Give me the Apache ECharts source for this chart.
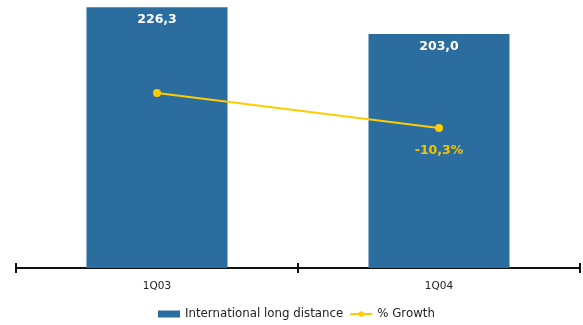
<!DOCTYPE html>
<html><head><meta charset="utf-8">
<script src="https://cdn.jsdelivr.net/npm/echarts@6/dist/echarts.min.js"></script>
<style>html,body{margin:0;padding:0;background:#fff}#c{width:583px;height:325px}</style>
</head><body><div id="c"></div>
<script>
const categories = ['1Q03', '1Q04'];
const intlLongDistance = [226.3, 203.0];
const growth = [0, -10.3];
const growthLabels = ['', '-10,3%'];

const chart = echarts.init(document.getElementById('c'));
const fmt = v => v.toFixed(1).replace('.', ',');
chart.setOption({
  animation: false,
  textStyle: { fontFamily: 'DejaVu Sans' },
  grid: { left: 16, right: 3, top: 3, bottom: 57 },
  legend: {
    bottom: 0, left: 153, itemGap: 6,
    itemWidth: 22, itemHeight: 7,
    textStyle: { fontSize: 11.8, color: '#222', fontFamily: 'DejaVu Sans' },
    data: [
      { name: 'International long distance', icon: 'rect' },
      { name: '% Growth' }
    ]
  },
  xAxis: [
    {
      type: 'category', data: categories, position: 'bottom',
      axisLine: { onZero: false, lineStyle: { color: '#111', width: 2 } },
      axisTick: { show: true, length: 5, lineStyle: { color: '#111', width: 2 } },
      axisLabel: { color: '#222', fontSize: 10.5, margin: 13 }
    },
    {
      type: 'category', data: categories, position: 'bottom',
      axisLine: { show: false, onZero: false },
      axisTick: { show: true, inside: true, length: 5, lineStyle: { color: '#111', width: 2 } },
      axisLabel: { show: false }
    }
  ],
  yAxis: [
    { type: 'value', min: 0, max: 230, show: false },
    { type: 'value', min: -51.5, max: 26.5, show: false }
  ],
  series: [
    {
      name: 'International long distance', type: 'bar', data: intlLongDistance,
      barWidth: '50%', itemStyle: { color: '#2C6DA0' },
      label: { show: true, position: 'insideTop', distance: 6, color: '#fff',
        fontWeight: 'bold', fontSize: 12.5, formatter: p => fmt(p.value) }
    },
    {
      name: '% Growth', type: 'line', yAxisIndex: 1, data: growth,
      symbol: 'circle', symbolSize: 8,
      itemStyle: { color: '#FFCC00' },
      lineStyle: { color: '#FFCC00', width: 2 },
      label: { show: true, position: 'bottom', distance: 12, color: '#F5C400',
        fontWeight: 'bold', fontSize: 12.5, formatter: p => growthLabels[p.dataIndex] }
    }
  ]
});
</script></body></html>
